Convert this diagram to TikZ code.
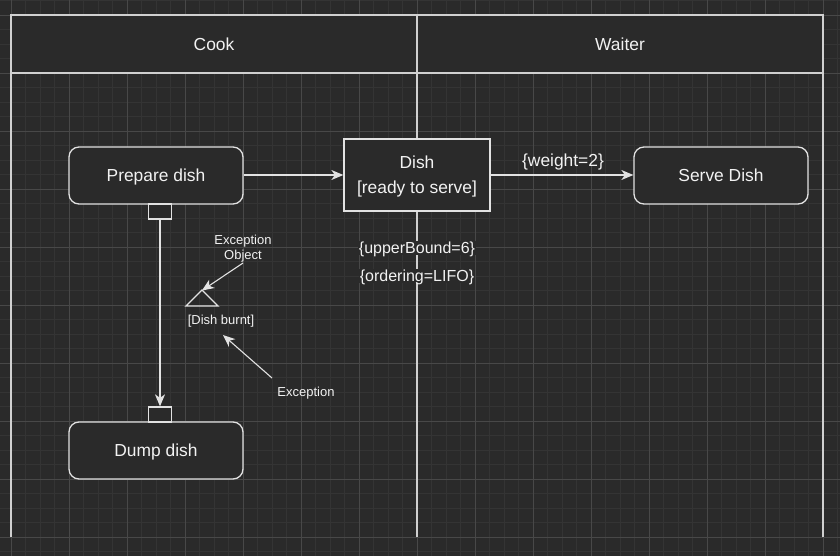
\documentclass[tikz,border=0pt]{standalone}
\usepackage{fontspec}
\setmainfont{Liberation Sans}
\usetikzlibrary{arrows.meta}
\definecolor{canvas}{RGB}{42,42,42}
\definecolor{minorline}{RGB}{52,52,52}
\definecolor{majorline}{RGB}{72,72,72}
\definecolor{edge}{RGB}{226,226,226}
\definecolor{ink}{RGB}{242,242,242}
\tikzstyle{lane}=[draw=edge!92!black, line width=1.6pt]
\tikzstyle{action}=[rounded corners=10pt, draw=edge, fill=canvas, line width=1.3pt, minimum width=174pt, minimum height=57pt, text=ink, text depth=0pt, font=\fontsize{17.4}{22}\selectfont]
\tikzstyle{object}=[draw=edge, fill=canvas, line width=1.3pt, minimum width=146pt, minimum height=72pt, text=ink, align=center, text depth=0pt, font=\fontsize{17.4}{25}\selectfont]
\tikzstyle{pin}=[draw=edge, fill=canvas, line width=1.3pt, minimum width=23pt, minimum height=15pt, inner sep=0pt]
\tikzstyle{flow}=[draw=edge, line width=1.3pt, -{Stealth[length=12pt, width=10pt, inset=3.5pt]}]
\tikzstyle{note}=[text=ink, text depth=0pt, font=\fontsize{17.4}{22}\selectfont]
\tikzstyle{bound}=[text=ink, fill=canvas, inner sep=1pt, text depth=0pt, font=\fontsize{16}{20}\selectfont]
\tikzstyle{small}=[text=ink, align=center, text depth=0pt, font=\fontsize{13}{15}\selectfont]

\begin{document}
\begin{tikzpicture}[x=1pt, y=-1pt]
                \fill[canvas] (0,0) rectangle (840,556);
                \useasboundingbox (0,0) rectangle (840,556);
                % grid
                \foreach \i in {-1,...,57}
                    \draw[minorline, line width=0.8pt] ({11+14.5*\i},0) -- ({11+14.5*\i},556);
                \foreach \j in {-1,...,37}
                    \draw[minorline, line width=0.8pt] (0,{15+14.5*\j}) -- (840,{15+14.5*\j});
                \foreach \i in {0,...,14}
                    \draw[majorline, line width=0.9pt] ({11+58*\i},0) -- ({11+58*\i},556);
                \foreach \j in {0,...,9}
                    \draw[majorline, line width=0.9pt] (0,{15+58*\j}) -- (840,{15+58*\j});
                % pool
                \draw[lane, fill=canvas] (11,15) rectangle (823,73);
                \draw[lane] (11,15)--(11,537) (417,15)--(417,537) (823,15)--(823,537);
                \node[note] (cook) at (214,44) {Cook};
                \node[note] (waiter) at (620,44) {Waiter};
                % nodes
                \node[action] (prep) at (156,175.5) {Prepare dish};
                \node[object] (dish) at (417,175) {Dish\\{}[ready to serve]};
                \node[action] (serve) at (721,175.5) {Serve Dish};
                \node[action] (dump) at (156,450.5) {Dump dish};
                \node[pin] (pinout) at (160,211.5) {};
                \node[pin] (pinin) at (160,414.5) {};
                \node[note] (weight) at (563,160) {\{weight=2\}};
                \node[bound] (upper) at (417,248) {\{upperBound=6\}};
                \node[bound] (order) at (417,276) {\{ordering=LIFO\}};
                \draw[edge, line width=1.3pt] (186,306)--(202,290)--(218,306)--cycle;
                \coordinate (apex) at (202,290.5);
                \node[small] (excobj) at (243,247.5) {Exception\\Object};
                \node[small] (burnt) at (221,320) {[Dish burnt]};
                \node[small] (exc) at (306,392) {Exception};
                \coordinate (exctail) at (272,378);
                \coordinate (exchead) at (223,335);
                % connectors
                \draw[flow] (prep.east |- dish.west)--(dish.west);
                \draw[flow] (dish.east)--(serve.west |- dish.east);
                \draw[flow] (pinout.south)--(pinin.north);
                \draw[flow, line width=1.1pt] (243,263)--(apex);
                \draw[flow, line width=1.1pt] (exctail)--(exchead);
            \end{tikzpicture}
\end{document}
